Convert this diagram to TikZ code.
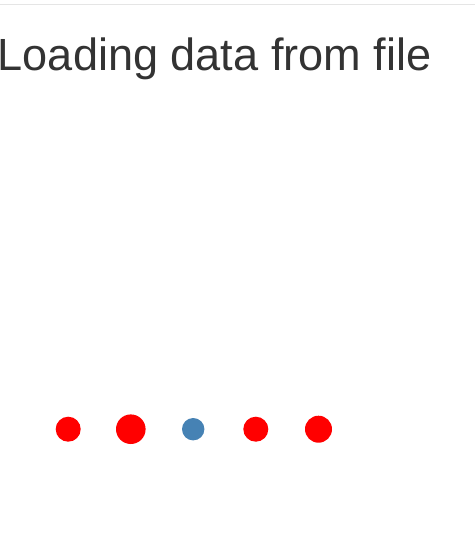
\documentclass[tikz,border=0pt]{standalone}
\usepackage{fontspec}
\setmainfont{Liberation Sans}
\definecolor{titlegray}{HTML}{333333}
\definecolor{rulegray}{HTML}{E5E5E5}
\definecolor{steel}{HTML}{4682B4}
\definecolor{dotred}{HTML}{FF0000}
\tikzset{
  dot/.style={circle, inner sep=0pt, minimum size=#1, draw=none},
  title/.style={anchor=base west, inner sep=0pt, text=titlegray, font=\fontsize{45.1pt}{50pt}\selectfont}
}
\begin{document}
\begin{tikzpicture}[x=1pt,y=-1pt]
\useasboundingbox (0,0) rectangle (475,539);
\fill[white] (0,0) rectangle (475,539);
\draw[rulegray, line width=1pt] (0,4) -- (475,4);
\node[title] (t) at (-2.4,70.5) {Loading data from file};
\node[dot=25pt, fill=dotred] (c1) at (68.2,429.2) {};
\node[dot=29.6pt, fill=dotred] (c2) at (130.8,429.2) {};
\node[dot=22.4pt, fill=steel] (c3) at (193.2,429.2) {};
\node[dot=25pt, fill=dotred] (c4) at (255.8,429.2) {};
\node[dot=27pt, fill=dotred] (c5) at (318.5,429.2) {};
\end{tikzpicture}
\end{document}
